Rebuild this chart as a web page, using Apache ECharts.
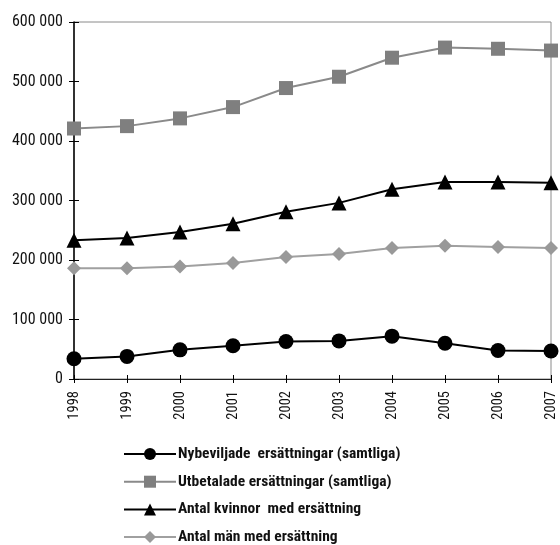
<!DOCTYPE html>
<html>
<head>
<meta charset="utf-8">
<style>
  html, body { margin: 0; padding: 0; background: #fff; }
  #chart { width: 560px; height: 545px; }
</style>
<script src="https://cdn.jsdelivr.net/npm/echarts@6/dist/echarts.min.js"></script>
</head>
<body>
<div id="chart"></div>
<script>
const years = ['1998', '1999', '2000', '2001', '2002', '2003', '2004', '2005', '2006', '2007'];
const nybeviljade = [34000, 38000, 49000, 56000, 63000, 64000, 72000, 60000, 48000, 47000];
const utbetalade = [421000, 425000, 438000, 457000, 489000, 508000, 540000, 557000, 555000, 552000];
const kvinnor = [233000, 237000, 247000, 261000, 281000, 296000, 319000, 331000, 331000, 330000];
const man = [186000, 186000, 189000, 195000, 205000, 210000, 220000, 224000, 222000, 220000];
const seriesNames = [
  'Nybeviljade  ersättningar (samtliga)',
  'Utbetalade ersättningar (samtliga)',
  'Antal kvinnor  med ersättning',
  'Antal män med ersättning'
];

const FONT = '"Roboto Condensed", "Open Sans Condensed", "DejaVu Sans Condensed", sans-serif';
const fmt = v => v === 0 ? '0' : String(v).replace(/\B(?=(\d{3})+(?!\d))/g, ' ');

const chart = echarts.init(document.getElementById('chart'), null, { renderer: 'canvas' });

function line(name, data, lineColor, markColor, symbol, size) {
  return {
    name, type: 'line', data,
    symbol, symbolSize: size,
    lineStyle: { color: lineColor, width: 2 },
    itemStyle: { color: markColor, borderWidth: 0 },
    emphasis: { disabled: true },
    animation: false,
    z: 3
  };
}

// an extra axis that only draws ticks, so the tick marks cross the axis line
const tickOnlyX = {
  type: 'category', position: 'bottom',
  data: years, boundaryGap: false,
  axisLine: { show: false },
  axisTick: { show: true, inside: true, alignWithLabel: true, length: 4, lineStyle: { color: '#000' } },
  axisLabel: { show: false }, splitLine: { show: false }
};

chart.setOption({
  animation: false,
  textStyle: { fontFamily: FONT },
  grid: { left: 74, right: 9, top: 22, bottom: 166, show: true, borderColor: '#8a8a8a', borderWidth: 1 },
  xAxis: [{
    type: 'category',
    data: years,
    boundaryGap: false,
    axisLine: { lineStyle: { color: '#000', width: 1 } },
    axisTick: { show: true, alignWithLabel: true, length: 4, lineStyle: { color: '#000' } },
    axisLabel: { rotate: 90, color: '#111', fontSize: 14.5, fontFamily: FONT, margin: 12 },
    splitLine: { show: false }
  }, {
    // dark top edge of the plot frame
    type: 'category', position: 'top',
    data: years, boundaryGap: false,
    axisLine: { show: true, lineStyle: { color: '#222', width: 1 } },
    axisTick: { show: false }, axisLabel: { show: false }, splitLine: { show: false }
  }, tickOnlyX],
  yAxis: [{
    type: 'value',
    min: 0, max: 600000, interval: 100000,
    axisLine: { show: true, lineStyle: { color: '#000', width: 1.5 } },
    axisTick: { show: true, length: 5, lineStyle: { color: '#000' } },
    axisLabel: { formatter: fmt, color: '#111', fontSize: 16, fontFamily: FONT, margin: 11 },
    splitLine: { show: false }
  }, {
    type: 'value', position: 'left',
    min: 0, max: 600000, interval: 100000,
    axisLine: { show: false },
    axisTick: { show: true, inside: true, length: 5, lineStyle: { color: '#000' } },
    axisLabel: { show: false },
    splitLine: { show: false }
  }],
  legend: {
    orient: 'vertical',
    left: 123, top: 445, height: 130, padding: 0,
    itemWidth: 52, itemHeight: 15, itemGap: 9.7,
    textStyle: { fontFamily: FONT, fontWeight: 'bold', fontSize: 15.5, lineHeight: 18, color: '#111', padding: [0, 0, 0, -3] },
    data: seriesNames
  },
  series: [
    line(seriesNames[0], nybeviljade, '#000', '#000', 'circle', 15),
    line(seriesNames[1], utbetalade, '#8a8a8a', '#7f7f7f', 'rect', 14),
    line(seriesNames[2], kvinnor, '#000', '#000', 'triangle', 15),
    line(seriesNames[3], man, '#a0a0a0', '#999', 'diamond', 14)
  ]
});
</script>
</body>
</html>
